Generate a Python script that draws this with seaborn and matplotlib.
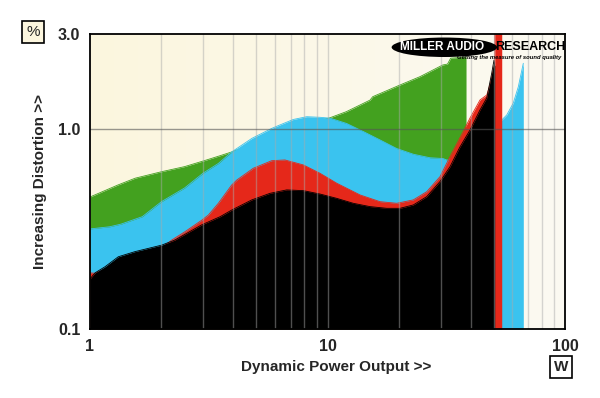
import numpy as np
import matplotlib
matplotlib.use("Agg")
import matplotlib.pyplot as plt
import seaborn as sns
from matplotlib.patches import Ellipse
from matplotlib.ticker import NullFormatter, FixedLocator

# --- data (W, %) ---
green_x = [1.0, 1.31, 1.55, 2.0, 2.5, 3.0, 3.5, 3.95, 5.0, 7.0, 9.0, 10.2, 12.0,
           15.1, 15.5, 20.2, 24.5, 30.6, 32.0, 33.0, 38.3]
green_y = [0.458, 0.526, 0.569, 0.613, 0.650, 0.694, 0.735, 0.77, 0.86, 0.98, 1.10,
           1.14, 1.225, 1.40, 1.456, 1.667, 1.834, 2.10, 2.12, 2.27, 2.30]

cyan_x = [1.0, 1.21, 1.35, 1.66, 2.0, 2.5, 3.0, 3.47, 3.95, 4.8, 5.82, 6.3, 7.18,
          8.18, 9.3, 10.24, 12.04, 14.15, 16.64, 19.56, 22.98, 27.02, 30.6, 31.9,
          36.0, 42.0, 48.0, 54.14, 56.83, 60.57, 63.59, 66.74]
cyan_y = [0.317, 0.325, 0.335, 0.365, 0.434, 0.508, 0.604, 0.674, 0.77, 0.90, 1.01,
          1.051, 1.12, 1.156, 1.148, 1.137, 1.069, 0.974, 0.884, 0.801, 0.75, 0.72,
          0.714, 0.70, 0.75, 1.0, 1.1, 1.113, 1.179, 1.354, 1.634, 2.14]

red_x = [1.0, 1.05, 1.3, 1.6, 2.0, 2.21, 2.51, 2.95, 3.15, 3.47, 3.95, 4.15, 4.87,
         5.82, 6.31, 6.62, 7.91, 9.30, 10.93, 13.71, 16.64, 19.56, 22.98, 26.17,
         29.76, 32.81, 37.21, 39.81, 43.86, 46.82, 48.5, 50.0, 50.6, 50.6, 54.14]
red_y = [0.191, 0.19, 0.21, 0.235, 0.255, 0.279, 0.307, 0.35, 0.372, 0.426, 0.526,
         0.557, 0.638, 0.696, 0.70, 0.702, 0.663, 0.602, 0.537, 0.469, 0.434, 0.426,
         0.443, 0.487, 0.579, 0.73, 0.97, 1.139, 1.402, 1.485, 1.7, 2.0, 2.1, 4.0, 4.0]

black_x = [1.0, 1.05, 1.157, 1.316, 1.547, 2.004, 2.28, 2.95, 3.53, 3.95, 4.80,
           5.73, 6.73, 7.91, 9.30, 10.93, 12.84, 15.10, 17.76, 20.20, 22.98, 26.17,
           29.76, 32.81, 36.0, 39.81, 43.86, 46.82, 49.13, 50.22, 50.6]
black_y = [0.178, 0.191, 0.205, 0.230, 0.244, 0.263, 0.279, 0.332, 0.365, 0.394,
           0.443, 0.478, 0.497, 0.493, 0.474, 0.451, 0.426, 0.410, 0.402, 0.402,
           0.418, 0.460, 0.547, 0.650, 0.81, 0.992, 1.25, 1.434, 1.91, 2.22, 2.05]

x_major = [1, 10, 100]
x_major_labels = ["1", "10", "100"]
x_minor = [2, 3, 4, 5, 6, 7, 8, 9, 20, 30, 40, 50, 60, 70, 80, 90]
y_major = [0.1, 1.0, 3.0]
y_major_labels = ["0.1", "1.0", "3.0"]
y_minor = [0.2, 0.3, 0.4, 0.5, 0.6, 0.7, 0.8, 0.9, 2.0]

series = [
    (green_x, green_y, "#43A11F"),
    (cyan_x, cyan_y, "#3AC3EF"),
    (red_x, red_y, "#E5281A"),
    (black_x, black_y, "#000000"),
]

# --- style ---
sns.set_style("white")
plt.rcParams['font.family'] = ['Liberation Sans', 'DejaVu Sans']

fig = plt.figure(figsize=(6, 3.98), dpi=100)
ax = fig.add_axes([0.15, 0.1734, 0.7917, 0.7412])
ax.set_xscale("log")
ax.set_yscale("log")
ax.set_xlim(1, 100)
ax.set_ylim(0.1, 3.0)

# cream background, fading lighter to the right
grad = np.linspace(0, 1, 256).reshape(1, -1)
bg = np.zeros((1, 256, 3))
c0 = np.array([252, 246, 222]) / 255
c1 = np.array([251, 250, 242]) / 255
bg[0] = c0 + (c1 - c0) * grad.T
ax.imshow(bg, extent=[0, 1, 0, 1], transform=ax.transAxes, aspect="auto", zorder=0)

# overlapping filled areas, back to front
for i, (xs, ys, col) in enumerate(series):
    ax.fill_between(xs, 0.1, ys, color=col, linewidth=0, zorder=2 + i)
    sns.lineplot(x=xs, y=ys, color=col, lw=0.6, estimator=None, sort=False,
                 ax=ax, zorder=2 + i)

# grid lines on top
for gx in x_minor + [10]:
    ax.axvline(gx, color="#aaaaaa", alpha=0.47, lw=1.0, zorder=8)
ax.axhline(1.0, color="#555555", alpha=0.6, lw=1.0, zorder=8)

# ticks
ax.xaxis.set_major_locator(FixedLocator(x_major))
ax.xaxis.set_minor_locator(FixedLocator(x_minor))
ax.yaxis.set_major_locator(FixedLocator(y_major))
ax.yaxis.set_minor_locator(FixedLocator(y_minor))
ax.set_xticklabels(x_major_labels)
ax.set_yticklabels(y_major_labels)
ax.xaxis.set_minor_formatter(NullFormatter())
ax.yaxis.set_minor_formatter(NullFormatter())
ax.tick_params(axis="both", which="major", direction="out", length=5, width=1,
               labelsize=11.5, pad=2, color="black")
ax.tick_params(axis="both", which="minor", direction="out", length=3, width=1,
               color="black")
for lab in ax.get_xticklabels() + ax.get_yticklabels():
    lab.set_fontweight("bold")

for side in ["left", "bottom", "top", "right"]:
    ax.spines[side].set_visible(True)
    ax.spines[side].set_color("black")
    ax.spines[side].set_linewidth(1.3)
    ax.spines[side].set_zorder(10)

# axis titles
fig.text(0.56, 0.078, "Dynamic Power Output >>", ha="center", va="center",
         fontsize=11, fontweight="bold")
fig.text(0.066, 0.545, "Increasing Distortion >>", ha="center", va="center",
         rotation=90, fontsize=11, fontweight="bold")
fig.text(0.055, 0.92, "%", ha="center", va="center", fontsize=11,
         bbox=dict(boxstyle="square,pad=0.25", fc="#FCF6DE", ec="black", lw=1.2))
fig.text(0.935, 0.078, "W", ha="center", va="center", fontsize=11,
         fontweight="bold",
         bbox=dict(boxstyle="square,pad=0.25", fc="white", ec="black", lw=1.2))

# logo
ax.add_patch(Ellipse((0.746, 0.955), 0.222, 0.066, transform=ax.transAxes,
                     fc="black", ec="none", zorder=11))
ax.text(0.742, 0.955, "MILLER AUDIO", transform=ax.transAxes, ha="center",
        va="center", color="white", fontsize=8.5, fontweight="bold", zorder=12)
ax.text(0.853, 0.955, "RESEARCH", transform=ax.transAxes, ha="left",
        va="center", color="black", fontsize=9, fontweight="bold", zorder=12)
ax.text(0.992, 0.92, "Getting the measure of sound quality", transform=ax.transAxes,
        ha="right", va="center", color="black", fontsize=4.2, fontweight="bold",
        style="italic", zorder=12)

fig.savefig("out.png", dpi=100, facecolor="white")
